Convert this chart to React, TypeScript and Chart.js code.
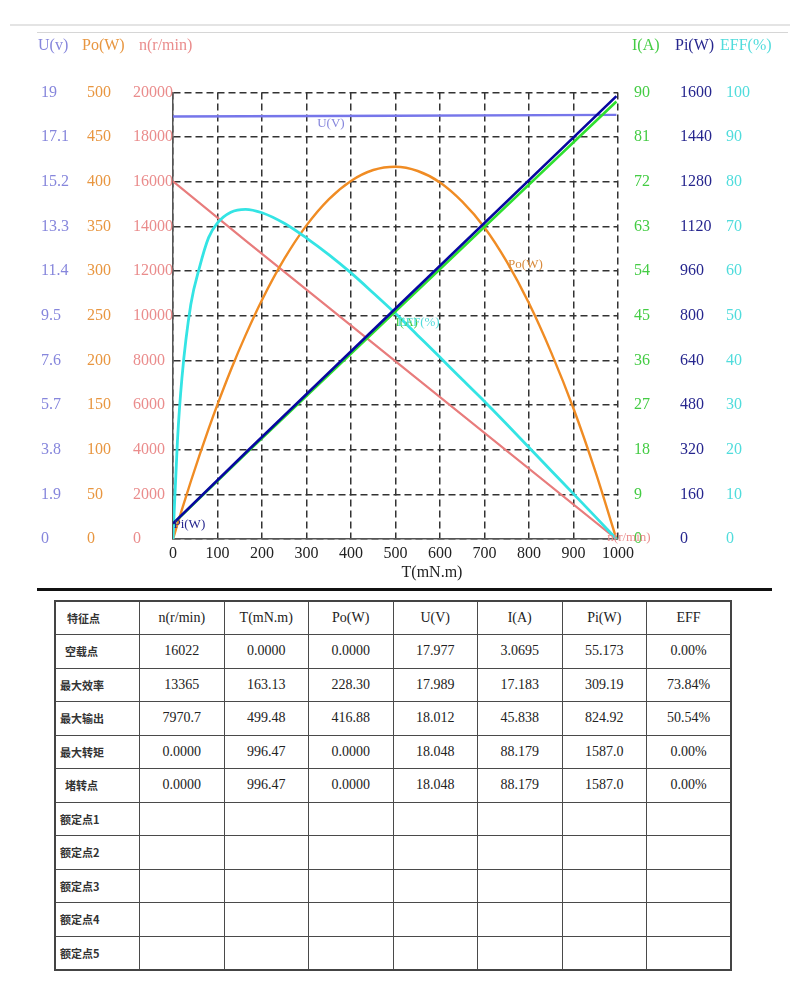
import React, { useEffect, useRef } from "react";
import { Chart, registerables } from "chart.js";

Chart.register(...registerables);

// ---- data ----
const torqueCurve = [0, 10, 20, 40, 60, 80, 100, 130, 163.13, 200, 250, 300, 350, 400, 450, 499.48, 550, 600, 650, 700, 750, 800, 850, 900, 950, 996.47];
const outputPower = [0, 16.61, 32.87, 64.38, 94.53, 123.3, 150.7, 189.3, 228.3, 267.7, 313.6, 351.2, 380.4, 401.0, 413.2, 416.88, 412.1, 399.3, 377.8, 348.9, 310.6, 263.9, 208.7, 146.1, 74.3, 0];
const efficiency = [0, 22, 36, 52.5, 61, 67.5, 70.8, 73.2, 73.84, 73.06, 70.7, 67.4, 63.7, 59.6, 55.1, 50.54, 45.6, 40.7, 35.7, 30.8, 25.7, 20.5, 15.3, 10.1, 4.9, 0];

const torqueLine = [0, 163.13, 499.48, 996.47];
const speed = [16022, 13365, 7970.7, 0];
const current = [3.0695, 17.183, 45.838, 88.179];
const inputPower = [55.173, 309.19, 824.92, 1587.0];
const voltage = [17.977, 17.989, 18.012, 18.048];

const xTitle = "T(mN.m)";
const axisTitles = ["U(v)", "Po(W)", "n(r/min)", "I(A)", "Pi(W)", "EFF(%)"];
const curveLabels = ["U(V)", "Po(W)", "I(A)", "EFF(%)", "Pi(W)", "n(r/min)"];

const tableHeaders = ["特征点", "n(r/min)", "T(mN.m)", "Po(W)", "U(V)", "I(A)", "Pi(W)", "EFF"];
const rowNames = ["\u00a0\u00a0空载点", "最大效率", "最大输出", "最大转矩", "\u00a0\u00a0堵转点", "额定点1", "额定点2", "额定点3", "额定点4", "额定点5"];
const colSpeed = ["16022", "13365", "7970.7", "0.0000", "0.0000"];
const colTorque = ["0.0000", "163.13", "499.48", "996.47", "996.47"];
const colPo = ["0.0000", "228.30", "416.88", "0.0000", "0.0000"];
const colU = ["17.977", "17.989", "18.012", "18.048", "18.048"];
const colI = ["3.0695", "17.183", "45.838", "88.179", "88.179"];
const colPi = ["55.173", "309.19", "824.92", "1587.0", "1587.0"];
const colEff = ["0.00%", "73.84%", "50.54%", "0.00%", "0.00%"];

// ---- colours ----
const cU = "#7676ea";
const cUText = "#8686dc";
const cPo = "#f08c24";
const cPoText = "#e89640";
const cN = "#e87c7c";
const cNText = "#ea8c8c";
const cI = "#2fe02f";
const cIText = "#44cc44";
const cPi = "#0808a0";
const cPiText = "#26268e";
const cEff = "#34e4e4";
const cEffText = "#50dcdc";

const serif = '"Liberation Serif", "Times New Roman", serif';

const pts = (xs: number[], ys: number[]) => xs.map((x, i) => ({ x, y: ys[i] }));

const fit = (w: number) => (s: any) => {
  s.width = w;
};

const titlesPlugin = {
  id: "titles",
  afterDraw(chart: any) {
    const { ctx, scales, chartArea } = chart;
    ctx.save();
    ctx.textBaseline = "middle";
    ctx.textAlign = "left";
    ctx.font = `16px ${serif}`;
    const tdef: [string, string, number][] = [
      ["yU", cUText, -3],
      ["yPo", cPoText, -5],
      ["yN", cNText, 6],
      ["yI", cIText, 14],
      ["yPi", cPiText, 11],
      ["yEff", cEffText, 2],
    ];
    tdef.forEach(([id, color, dx], i) => {
      ctx.fillStyle = color;
      ctx.fillText(axisTitles[i], scales[id].left + dx, 16);
    });
    // x title
    ctx.fillStyle = "#222";
    ctx.textAlign = "center";
    ctx.fillText(xTitle, chartArea.left + 0.582 * (chartArea.right - chartArea.left), chartArea.bottom + 34);
    // curve labels
    ctx.font = `13px ${serif}`;
    ctx.textAlign = "left";
    const x = scales.x;
    ctx.fillStyle = cUText;
    ctx.fillText(curveLabels[0], x.getPixelForValue(324), scales.yU.getPixelForValue(voltage[0]) + 7);
    ctx.fillStyle = "#d88a3c";
    ctx.fillText(curveLabels[1], x.getPixelForValue(753), scales.yPo.getPixelForValue(307));
    ctx.fillStyle = cIText;
    ctx.fillText(curveLabels[2], x.getPixelForValue(500), scales.yEff.getPixelForValue(48.4));
    ctx.fillStyle = cEffText;
    ctx.fillText(curveLabels[3], x.getPixelForValue(505), scales.yEff.getPixelForValue(48.4));
    ctx.fillStyle = cPiText;
    ctx.fillText(curveLabels[4], x.getPixelForValue(1), scales.yPi.getPixelForValue(inputPower[0]) + 1);
    ctx.fillStyle = cNText;
    ctx.fillText(curveLabels[5], x.getPixelForValue(976), scales.yN.getPixelForValue(0) - 1);
    ctx.restore();
  },
};

function MotorChart() {
  const ref = useRef<HTMLCanvasElement>(null);
  useEffect(() => {
    const tickFont = { family: serif, size: 16 };
    const hiddenGrid = { display: false, drawTicks: false };
    const chart = new Chart(ref.current as HTMLCanvasElement, {
      type: "line",
      data: {
        datasets: [
          { label: "Pi(W)", data: pts(torqueLine, inputPower), yAxisID: "yPi", borderColor: cPi, borderWidth: 2.6 },
          { label: "I(A)", data: pts(torqueLine, current), yAxisID: "yI", borderColor: cI, borderWidth: 2.6 },
          { label: "EFF(%)", data: pts(torqueCurve, efficiency), yAxisID: "yEff", borderColor: cEff, borderWidth: 2.8, cubicInterpolationMode: "monotone" },
          { label: "Po(W)", data: pts(torqueCurve, outputPower), yAxisID: "yPo", borderColor: cPo, borderWidth: 2.4, cubicInterpolationMode: "monotone" },
          { label: "n(r/min)", data: pts(torqueLine, speed), yAxisID: "yN", borderColor: cN, borderWidth: 2.2 },
          { label: "U(V)", data: pts(torqueLine, voltage), yAxisID: "yU", borderColor: cU, borderWidth: 2.4 },
        ] as any,
      },
      options: {
        animation: false,
        responsive: false,
        devicePixelRatio: 1,
        parsing: false as any,
        elements: { point: { radius: 0 } },
        layout: { padding: { left: 33, right: 0, top: 62.5, bottom: 0 } },
        plugins: { legend: { display: false }, tooltip: { enabled: false } },
        scales: {
          x: {
            type: "linear",
            min: 0,
            max: 1000,
            ticks: { stepSize: 100, color: "#222", font: tickFont, padding: 5, maxRotation: 0, autoSkip: false, callback: (v: any) => String(v) },
            grid: { color: "#333", lineWidth: 1.5, drawTicks: false },
            border: { display: true, color: "#555", width: 1.5, dash: [7, 4] },
            afterFit: (s: any) => {
              s.height = 51;
            },
          },
          yN: {
            type: "linear",
            position: "left",
            weight: 0,
            min: 0,
            max: 20000,
            ticks: { stepSize: 2000, color: cNText, font: tickFont, crossAlign: "far", padding: 0, callback: (v: any) => String(v) },
            grid: { color: "#333", lineWidth: 1.5, drawTicks: false },
            border: { display: true, color: "#555", width: 1.5, dash: [7, 4] },
            afterFit: fit(40),
          },
          yPo: {
            type: "linear",
            position: "left",
            weight: 1,
            min: 0,
            max: 500,
            ticks: { stepSize: 50, color: cPoText, font: tickFont, crossAlign: "far", padding: 0, callback: (v: any) => String(v) },
            grid: hiddenGrid,
            border: { display: false },
            afterFit: fit(46),
          },
          yU: {
            type: "linear",
            position: "left",
            weight: 2,
            min: 0,
            max: 19,
            ticks: { stepSize: 1.9, color: cUText, font: tickFont, crossAlign: "far", padding: 0, callback: (v: any) => String(Math.round(v * 10) / 10) },
            grid: hiddenGrid,
            border: { display: false },
            afterFit: fit(46),
          },
          yI: {
            type: "linear",
            position: "right",
            weight: 0,
            min: 0,
            max: 90,
            ticks: { stepSize: 9, color: cIText, font: tickFont, padding: 16, callback: (v: any) => String(v) },
            grid: hiddenGrid,
            border: { display: false },
            afterFit: fit(46),
          },
          yPi: {
            type: "linear",
            position: "right",
            weight: 1,
            min: 0,
            max: 1600,
            ticks: { stepSize: 160, color: cPiText, font: tickFont, padding: 16, callback: (v: any) => String(v) },
            grid: hiddenGrid,
            border: { display: false },
            afterFit: fit(54),
          },
          yEff: {
            type: "linear",
            position: "right",
            weight: 2,
            min: 0,
            max: 100,
            ticks: { stepSize: 10, color: cEffText, font: tickFont, padding: 8, callback: (v: any) => String(v) },
            grid: hiddenGrid,
            border: { display: false },
            afterFit: fit(74),
          },
        } as any,
      },
      plugins: [titlesPlugin as any],
    });
    return () => chart.destroy();
  }, []);
  return <canvas ref={ref} width={784} height={560} style={{ display: "block", width: 784, height: 560 }} />;
}

export default function App() {
  const cell: React.CSSProperties = {
    border: "1.5px solid #4a4a4a",
    padding: 0,
    textAlign: "center",
    verticalAlign: "middle",
    fontSize: 14,
    color: "#222",
    overflow: "hidden",
    whiteSpace: "nowrap",
  };
  const firstCell: React.CSSProperties = {
    ...cell,
    textAlign: "left",
    paddingLeft: 4,
    fontFamily: '"Noto Sans CJK SC", sans-serif',
    fontWeight: 700,
    fontSize: 11,
    color: "#333",
  };
  const dataCols = [colSpeed, colTorque, colPo, colU, colI, colPi, colEff];
  return (
    <div style={{ position: "relative", width: 784, height: 984, fontFamily: serif }}>
      <div style={{ position: "absolute", left: 2, top: 16, width: 780, height: 2, background: "#e4e4e4" }} />
      <div style={{ position: "absolute", left: 29, top: 24, width: 751, height: 1, background: "#d6d6d6" }} />
      <div style={{ position: "absolute", left: 0, top: 22 }}>
        <MotorChart />
      </div>
      <div style={{ position: "absolute", left: 29, top: 580, width: 735, height: 3, background: "#111" }} />
      <table
        style={{
          position: "absolute",
          left: 46,
          top: 592,
          width: 678,
          borderCollapse: "collapse",
          tableLayout: "fixed",
          fontFamily: serif,
          border: "2px solid #444",
        }}
      >
        <tbody>
          <tr style={{ height: 33.5 }}>
            {tableHeaders.map((h, i) => (
              <td key={i} style={i === 0 ? { ...firstCell, paddingLeft: 11 } : cell}>
                {h}
              </td>
            ))}
          </tr>
          {rowNames.map((name, r) => (
            <tr key={r} style={{ height: 33.5 }}>
              <td style={firstCell}>{name}</td>
              {dataCols.map((col, c) => (
                <td key={c} style={cell}>
                  {col[r] ?? ""}
                </td>
              ))}
            </tr>
          ))}
        </tbody>
      </table>
    </div>
  );
}
